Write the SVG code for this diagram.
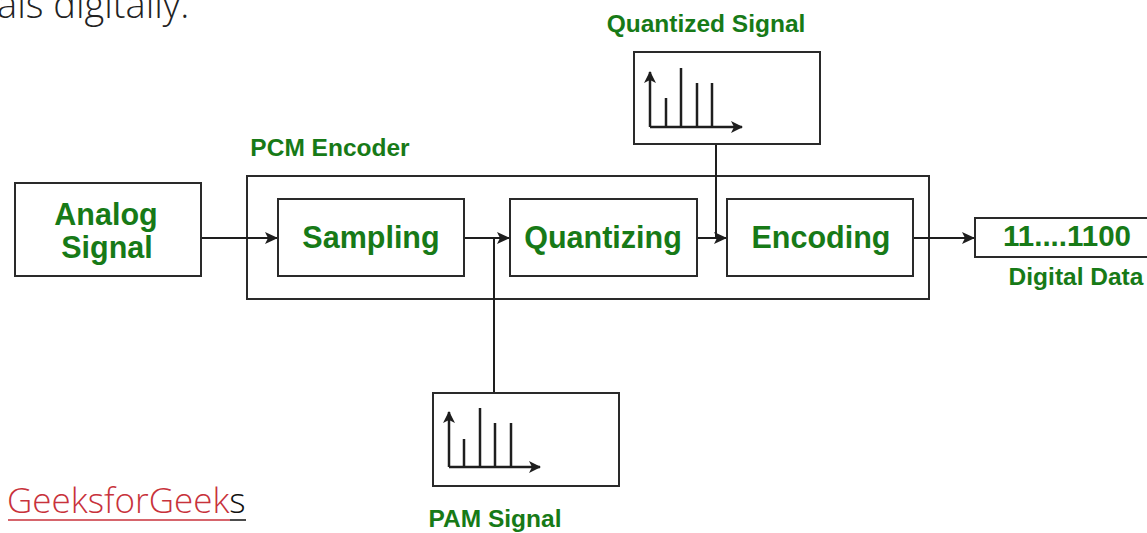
<svg xmlns="http://www.w3.org/2000/svg" width="1147" height="533" viewBox="0 0 1147 533">
<defs>
<style>
.box{fill:#fff;stroke:#2a2a2a;stroke-width:2}
.ln{fill:none;stroke:#1e1e1e;stroke-width:2}
.lbl{font-family:"Liberation Sans",Arial,sans-serif;font-weight:bold;fill:#177a17;text-anchor:middle}
.big{font-size:30.5px}
.sm{font-size:24.5px}
.plot{fill:none;stroke:#1e1e1e;stroke-width:2.5}
</style>
<marker id="ah" viewBox="0 0 13 12" refX="13" refY="6" markerWidth="13" markerHeight="12" markerUnits="userSpaceOnUse" orient="auto">
<path d="M0,0 L13,6 L0,12 L3,6 Z" fill="#1e1e1e"/>
</marker>
<marker id="pa" viewBox="0 0 12 12" refX="11" refY="6" markerWidth="12" markerHeight="12" markerUnits="userSpaceOnUse" orient="auto">
<path d="M0,0 L12,6 L0,12 L3,6 Z" fill="#1e1e1e"/>
</marker>
</defs>
<rect width="1147" height="533" fill="#fff"/>
<text x="-3" y="18" font-family="'Open Sans',sans-serif" font-weight="300" font-size="38" fill="#222">als digitally.</text>

<g id="pcm-encoder">
<rect class="box" x="247" y="176" width="682" height="123"/>
<text class="lbl sm" x="330" y="156">PCM Encoder</text>
</g>

<g id="connectors">
<line class="ln" x1="201" y1="238" x2="278" y2="238" marker-end="url(#ah)"/>
<line class="ln" x1="464" y1="238" x2="510" y2="238" marker-end="url(#ah)"/>
<line class="ln" x1="494" y1="238" x2="494" y2="393"/>
<line class="ln" x1="697" y1="238" x2="727" y2="238" marker-end="url(#ah)"/>
<line class="ln" x1="716" y1="144" x2="716" y2="238"/>
<line class="ln" x1="913" y1="238" x2="975" y2="238" marker-end="url(#ah)"/>
</g>

<g id="analog">
<rect class="box" x="15" y="183" width="186" height="93"/>
<text class="lbl big" x="106" y="225">Analog</text>
<text class="lbl big" x="107" y="258">Signal</text>
</g>

<g id="sampling">
<rect class="box" x="278" y="199" width="186" height="77"/>
<text class="lbl big" x="371" y="248">Sampling</text>
</g>

<g id="quantizing">
<rect class="box" x="510" y="199" width="187" height="77"/>
<text class="lbl big" x="603" y="248">Quantizing</text>
</g>

<g id="encoding">
<rect class="box" x="727" y="199" width="186" height="77"/>
<text class="lbl big" x="821" y="248">Encoding</text>
</g>

<g id="digital">
<rect class="box" x="975" y="218" width="180" height="39"/>
<text class="lbl" x="1067" y="246" font-size="29.5">11....1100</text>
<text class="lbl sm" x="1076" y="285">Digital Data</text>
</g>

<g id="quantized-signal">
<text class="lbl sm" x="706" y="32">Quantized Signal</text>
<rect class="box" x="634" y="52" width="186" height="92"/>
<line class="plot" x1="650" y1="127" x2="650" y2="72" marker-end="url(#pa)"/>
<line class="plot" x1="650" y1="127" x2="742" y2="127" marker-end="url(#pa)"/>
<line class="plot" x1="666" y1="127" x2="666" y2="98"/>
<line class="plot" x1="681" y1="127" x2="681" y2="68"/>
<line class="plot" x1="697" y1="127" x2="697" y2="83"/>
<line class="plot" x1="712" y1="127" x2="712" y2="83"/>
</g>

<g id="pam-signal">
<rect class="box" x="433" y="393" width="186" height="93"/>
<line class="plot" x1="449" y1="467" x2="449" y2="412" marker-end="url(#pa)"/>
<line class="plot" x1="449" y1="467" x2="540" y2="467" marker-end="url(#pa)"/>
<line class="plot" x1="464" y1="467" x2="464" y2="439"/>
<line class="plot" x1="480" y1="467" x2="480" y2="408"/>
<line class="plot" x1="495" y1="467" x2="495" y2="423"/>
<line class="plot" x1="511" y1="467" x2="511" y2="423"/>
<text class="lbl sm" x="495" y="527">PAM Signal</text>
</g>

<g id="credit">
<text x="7" y="513" font-family="'Open Sans',sans-serif" font-weight="300" font-size="35" fill="#c8323b">GeeksforGeek<tspan fill="#111">s</tspan></text>
<line x1="8" y1="520" x2="230" y2="520" stroke="#c8323b" stroke-width="1.5"/>
<line x1="230" y1="520" x2="246" y2="520" stroke="#111" stroke-width="1.5"/>
</g>
</svg>
